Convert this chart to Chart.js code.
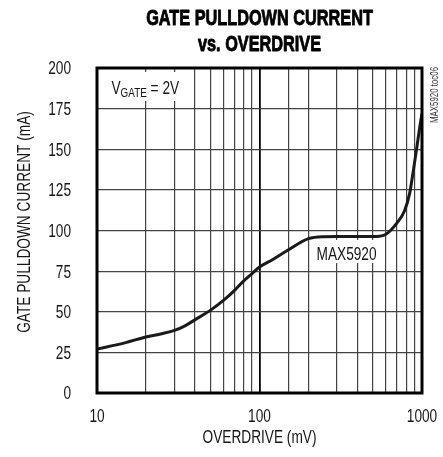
<!DOCTYPE html>
<html>
<head>
<meta charset="utf-8">
<script src="https://cdn.jsdelivr.net/npm/chart.js@4.4.1/dist/chart.umd.min.js"></script>
<style>
  html, body { margin: 0; padding: 0; background: #fff; }
</style>
</head>
<body>
<canvas id="myChart" width="443" height="457"></canvas>
<script>
// datos
const overdrive = [10, 15, 20, 25, 30, 35, 40, 50, 60, 70, 80, 90, 100, 120, 150, 200, 250, 300, 400, 500, 580, 640, 700, 780, 840, 885, 935, 970, 1000];
const pulldownCurrent = [27, 31, 34.5, 36.5, 38.5, 41.5, 45, 51, 57, 63, 69, 73.5, 77.5, 82, 88, 95, 96.2, 96.3, 96.3, 96.3, 97, 100, 104.5, 112, 123, 137, 153, 164, 172];
const xTickLabels = [10, 100, 1000];
const yTicks = [0, 25, 50, 75, 100, 125, 150, 175, 200];

const FAMILY = "'Liberation Sans', Arial, sans-serif";
const TEXT = '#161616';
const SX = 0.76; // letra condensada

// dibuja texto estrechado horizontalmente
function condText(ctx, text, x, y, font, sx, align, rot, stroke) {
    ctx.save();
    ctx.translate(x, y);
    if (rot) ctx.rotate(rot);
    ctx.scale(sx, 1);
    ctx.font = font;
    ctx.textAlign = align;
    ctx.textBaseline = 'alphabetic';
    ctx.fillText(text, 0, 0);
    if (stroke) {
        ctx.strokeStyle = ctx.fillStyle;
        ctx.lineWidth = stroke;
        ctx.lineJoin = 'round';
        ctx.strokeText(text, 0, 0);
    }
    ctx.restore();
}

const decoPlugin = {
    id: 'deco',
    beforeDatasetsDraw(chart) {
        const { ctx } = chart;
        ctx.save();
        // cajas blancas de las anotaciones
        ctx.fillStyle = '#fff';
        ctx.fillRect(108, 72, 80, 29);
        ctx.fillRect(313, 240, 68, 23);
        ctx.fillStyle = TEXT;
        // VGATE = 2V
        const big = '18px ' + FAMILY, small = '13px ' + FAMILY;
        let x0 = 111.5;
        condText(ctx, 'V', x0, 94, big, SX, 'left');
        ctx.font = big;
        x0 += ctx.measureText('V').width * SX;
        condText(ctx, 'GATE', x0, 97, small, SX, 'left');
        ctx.font = small;
        x0 += ctx.measureText('GATE').width * SX;
        condText(ctx, ' = 2V', x0, 94, big, SX, 'left');
        // MAX5920
        condText(ctx, 'MAX5920', 316.5, 260, big, SX, 'left');
        ctx.restore();
    },
    afterDraw(chart) {
        const { ctx, chartArea: a, scales: { x, y } } = chart;
        ctx.save();
        ctx.strokeStyle = '#000';
        ctx.lineWidth = 3;
        ctx.strokeRect(a.left, a.top, a.right - a.left, a.bottom - a.top);
        ctx.fillStyle = TEXT;
        const tickFont = '18px ' + FAMILY;
        // etiquetas de los ejes
        y.ticks.forEach(t => {
            condText(ctx, String(t.value), 71, y.getPixelForValue(t.value) + 6.4, tickFont, SX, 'right');
        });
        xTickLabels.forEach(v => {
            condText(ctx, String(v), x.getPixelForValue(v), 421.5, tickFont, SX, 'center');
        });
        const cx = (a.left + a.right) / 2;
        condText(ctx, 'OVERDRIVE (mV)', cx, 443, tickFont, SX, 'center');
        condText(ctx, 'GATE PULLDOWN CURRENT (mA)', 30.4, 222, tickFont, SX, 'center', -Math.PI / 2);
        // titulo
        ctx.fillStyle = '#000';
        condText(ctx, 'GATE PULLDOWN CURRENT', cx, 25, 'bold 22px ' + FAMILY, 0.74, 'center', 0, 0.9);
        condText(ctx, 'vs. OVERDRIVE', cx, 50.5, 'bold 22px ' + FAMILY, 0.74, 'center', 0, 0.9);
        // codigo de figura
        ctx.fillStyle = '#333';
        condText(ctx, 'MAX5920 toc06', 437.6, 95, '10px ' + FAMILY, 0.79, 'center', -Math.PI / 2);
        ctx.restore();
    }
};

const ctx = document.getElementById('myChart').getContext('2d');
const myChart = new Chart(ctx, {
    type: 'line',
    data: {
        datasets: [{
            data: overdrive.map((v, i) => ({ x: v, y: pulldownCurrent[i] })),
            borderColor: '#1a1a1a',
            borderWidth: 3,
            pointRadius: 0,
            cubicInterpolationMode: 'monotone',
            fill: false
        }]
    },
    options: {
        responsive: false,
        animation: false,
        layout: { padding: { top: 68, right: 21, left: 0, bottom: 0 } },
        plugins: {
            legend: { display: false },
            tooltip: { enabled: false }
        },
        scales: {
            x: {
                type: 'logarithmic',
                min: 10,
                max: 1000,
                afterFit(scale) { scale.height = 64; },
                grid: {
                    color: c => c.tick && c.tick.value === 100 ? '#000' : '#444',
                    lineWidth: c => c.tick && c.tick.value === 100 ? 1.8 : 1.2,
                    drawTicks: false
                },
                border: { display: false },
                ticks: { display: false, autoSkip: false, maxRotation: 0 }
            },
            y: {
                min: 0,
                max: 200,
                afterFit(scale) { scale.width = 97; },
                afterBuildTicks(scale) { scale.ticks = yTicks.map(v => ({ value: v })); },
                grid: { color: '#444', lineWidth: 1.2, drawTicks: false },
                border: { display: false },
                ticks: { display: false }
            }
        }
    },
    plugins: [decoPlugin]
});
</script>
</body>
</html>
